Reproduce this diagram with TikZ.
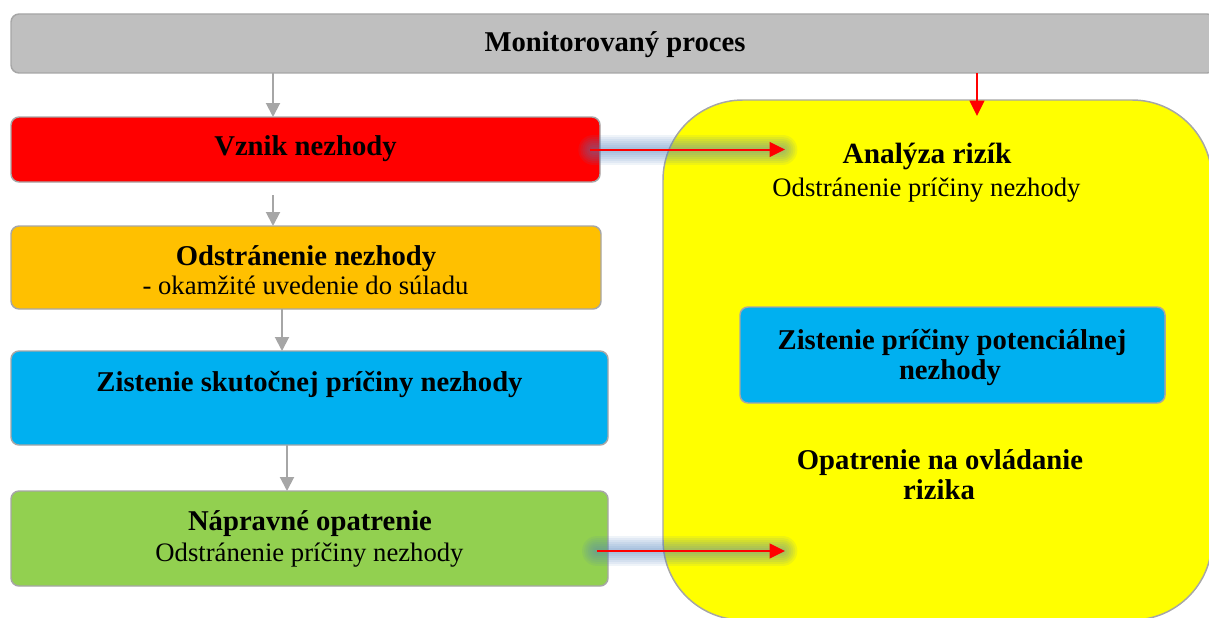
\documentclass[tikz,border=0pt]{standalone}
\usepackage{fontspec}
\setmainfont{Liberation Serif}
\usetikzlibrary{arrows.meta,calc}
\definecolor{procgrey}{HTML}{BFBFBF}
\definecolor{edgegrey}{HTML}{A6A6A6}
\definecolor{boxred}{HTML}{FF0000}
\definecolor{boxorange}{HTML}{FFC000}
\definecolor{boxblue}{HTML}{00B0F0}
\definecolor{boxgreen}{HTML}{92D050}
\definecolor{boxyellow}{HTML}{FFFF00}
\definecolor{glowblue}{HTML}{4F81BD}
\definecolor{arrowgrey}{HTML}{A6A6A6}
\tikzset{
  box/.style={draw=edgegrey, line width=1.1pt, rounded corners=6pt, inner sep=0pt, outer sep=0pt},
  btxt/.style={font=\fontsize{21.5pt}{25pt}\selectfont\bfseries, anchor=base, inner sep=0pt},
  rtxt/.style={font=\fontsize{20pt}{24pt}\selectfont, anchor=base, inner sep=0pt},
  garrow/.style={draw=arrowgrey, line width=1.5pt, -{Triangle[length=10.5pt,width=10.5pt]}},
  rarrow/.style={draw=boxred, line width=1.5pt, -{Triangle[length=11.5pt,width=11pt]}},
  glowline/.style={draw=glowblue, line cap=round, opacity=0.09}
}
\begin{document}
\begin{tikzpicture}[x=0.75pt,y=-0.75pt]
\useasboundingbox (0,0) rectangle (1209,617);
\clip (0,0) rectangle (1209,617);
% boxes
\node[box, fill=boxyellow, rounded corners=60pt, minimum width=411.75pt, minimum height=390pt] (analyza) at (937.5,360) {};
\node[box, fill=procgrey, minimum width=903pt, minimum height=44.25pt] (proc) at (613,43.5) {};
\node[box, fill=boxred, minimum width=441.75pt, minimum height=48.75pt] (vznik) at (305.5,149.5) {};
\node[box, fill=boxorange, minimum width=442.5pt, minimum height=62.25pt] (odstr) at (306,267.5) {};
\node[box, fill=boxblue, minimum width=447.75pt, minimum height=70.5pt] (zist) at (309.5,398) {};
\node[box, fill=boxgreen, minimum width=447.75pt, minimum height=71.25pt] (naprav) at (309.5,538.5) {};
\node[box, fill=boxblue, minimum width=318.75pt, minimum height=72pt] (pot) at (952.5,355) {};
% texts
\node[btxt] (tproc) at (615,52) {Monitorovaný proces};
\node[btxt] (tvznik) at (305.5,155) {Vznik nezhody};
\node[btxt] (todstr1) at (306,265) {Odstránenie nezhody};
\node[rtxt] (todstr2) at (305.5,294) {- okamžité uvedenie do súladu};
\node[btxt] (tzist) at (309.5,391) {Zistenie skutočnej príčiny nezhody};
\node[btxt] (tnap1) at (310,530) {Nápravné opatrenie};
\node[rtxt] (tnap2) at (309.5,561) {Odstránenie príčiny nezhody};
\node[btxt, font=\fontsize{22pt}{26pt}\selectfont\bfseries] (tanal1) at (927,163) {Analýza rizík};
\node[rtxt] (tanal2) at (926.5,196) {Odstránenie príčiny nezhody};
\node[btxt] (tpot1) at (952,349) {Zistenie príčiny potenciálnej};
\node[btxt] (tpot2) at (950,379) {nezhody};
\node[btxt] (topat1) at (940,469) {Opatrenie na ovládanie};
\node[btxt] (topat2) at (939,499) {rizika};
% coordinates
\coordinate (ax1) at (273,0);
\coordinate (ax2) at (282,0);
\coordinate (ax3) at (287,0);
\coordinate (ax4) at (977,0);
\coordinate (tip1) at (785,149.5);
\coordinate (tip2) at (785,551);
\coordinate (start2) at (597,551);
% glows
\foreach \w in {30,26,22,18,14,10,6} {
  \draw[glowline, line width=\w*0.75pt] ([xshift=-5pt]vznik.east) -- ([xshift=-2pt]tip1);
  \draw[glowline, line width=\w*0.75pt] (start2) -- ([xshift=-2pt]tip2);
}
% grey arrows
\draw[garrow] (proc.south -| ax1) -- (vznik.north -| ax1);
\draw[garrow, shorten <=9.75pt] (vznik.south -| ax1) -- (odstr.north -| ax1);
\draw[garrow] (odstr.south -| ax2) -- (zist.north -| ax2);
\draw[garrow] (zist.south -| ax3) -- (naprav.north -| ax3);
% red arrows
\draw[rarrow] ([xshift=-7.5pt]vznik.east) -- (tip1);
\draw[rarrow] (start2) -- (tip2);
\draw[rarrow] (proc.south -| ax4) -- ([yshift=-12pt]analyza.north -| ax4);
\end{tikzpicture}
\end{document}
